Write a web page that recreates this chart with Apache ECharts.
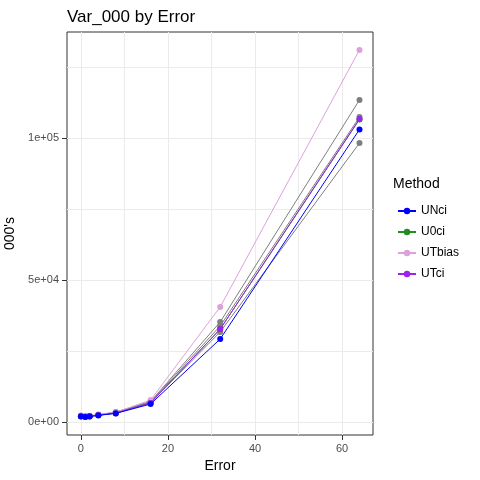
<!DOCTYPE html>
<html><head><meta charset="utf-8">
<script src="https://cdn.jsdelivr.net/npm/echarts@6/dist/echarts.min.js"></script>
<style>html,body{margin:0;background:#fff}#main{width:480px;height:480px}</style>
</head><body><div id="main"></div>
<script>
var errors = [0, 1, 2, 4, 8, 16, 32, 64];
var unci = [1900, 1700, 1900, 2300, 3000, 6300, 29200, 103000];
var u0ci = [2000, 1800, 2000, 2400, 3100, 6700, 32700, 106500];
var utbias = [2300, 2000, 2200, 2600, 3400, 7700, 40500, 131000];
var utci = [2000, 1800, 2000, 2400, 3100, 6700, 32700, 106700];
var grey1 = [2200, 1900, 2100, 2500, 3500, 7200, 35200, 113400];
var grey2 = [2100, 1900, 2100, 2500, 3300, 7000, 33800, 107400];
var grey3 = [2000, 1800, 2000, 2400, 3200, 6800, 31700, 98200];
var xGrid = [0, 10, 20, 30, 40, 50, 60];
var xTicks = [0, 20, 40, 60];
var yGrid = [0, 25000, 50000, 75000, 100000, 125000];
var yTicks = [0, 50000, 100000];
var yLabels = {0: '0e+00', 50000: '5e+04', 100000: '1e+05'};

function pts(v) { return errors.map(function (x, i) { return [x, v[i]]; }); }
function ser(name, v, color, z) {
  return { name: name, type: 'line', data: pts(v), symbol: 'circle', symbolSize: 6,
    z: z, itemStyle: { color: color }, lineStyle: { color: color, width: 1 } };
}
var xr = { min: -3.2, max: 67.1 }, yr = { min: -4600, max: 137300 };
var chart = echarts.init(document.getElementById('main'));
chart.setOption({
  animation: false,
  textStyle: { fontFamily: 'Liberation Sans, Arial' },
  title: { text: 'Var_000 by Error', left: 62, top: 4, textStyle: { fontSize: 17, fontWeight: 'normal', color: '#000' } },
  legend: {
    data: ['UNci', 'U0ci', 'UTbias', 'UTci'], orient: 'vertical', left: 392, top: 200,
    itemWidth: 18, itemHeight: 8, itemGap: 9, textStyle: { fontSize: 12, color: '#000' }
  },
  graphic: [{ type: 'text', left: 393, top: 177, style: { text: 'Method', fontSize: 14, fill: '#000' } }],
  grid: { left: 67, right: 107, top: 32, bottom: 45, containLabel: false, outerBoundsMode: 'none',
    show: true, borderColor: '#333', borderWidth: 1 },
  xAxis: [{
    type: 'value', min: xr.min, max: xr.max,
    axisLine: { show: false }, axisTick: { show: false, customValues: xGrid },
    axisLabel: { show: false, customValues: xGrid },
    splitLine: { show: true, lineStyle: { color: '#ebebeb' } }
  }, {
    type: 'value', min: xr.min, max: xr.max, position: 'bottom',
    name: 'Error', nameLocation: 'middle', nameGap: 22,
    nameTextStyle: { fontSize: 14, color: '#000' },
    axisLine: { show: false, onZero: false },
    axisTick: { show: true, customValues: xTicks, lineStyle: { color: '#333' } },
    axisLabel: { customValues: xTicks, color: '#4d4d4d', fontSize: 11 },
    splitLine: { show: false }
  }],
  yAxis: [{
    type: 'value', min: yr.min, max: yr.max,
    axisLine: { show: false }, axisTick: { show: false, customValues: yGrid },
    axisLabel: { show: false, customValues: yGrid },
    splitLine: { show: true, lineStyle: { color: '#ebebeb' } }
  }, {
    type: 'value', min: yr.min, max: yr.max, position: 'left',
    name: "000's", nameLocation: 'middle', nameGap: 50,
    nameTextStyle: { fontSize: 14, color: '#000' },
    axisLine: { show: false, onZero: false },
    axisTick: { show: true, customValues: yTicks, lineStyle: { color: '#333' } },
    axisLabel: { customValues: yTicks, color: '#4d4d4d', fontSize: 11,
      formatter: function (v) { return yLabels[v] || ''; } },
    splitLine: { show: false }
  }],
  series: [
    ser('g1', grey1, '#7f7f7f', 2), ser('g2', grey2, '#7f7f7f', 2), ser('g3', grey3, '#7f7f7f', 2),
    ser('UTbias', utbias, '#dda0dd', 3),
    ser('U0ci', u0ci, '#228b22', 3),
    ser('UTci', utci, '#a020f0', 4),
    ser('UNci', unci, '#0000ff', 5)
  ]
});
</script></body></html>
